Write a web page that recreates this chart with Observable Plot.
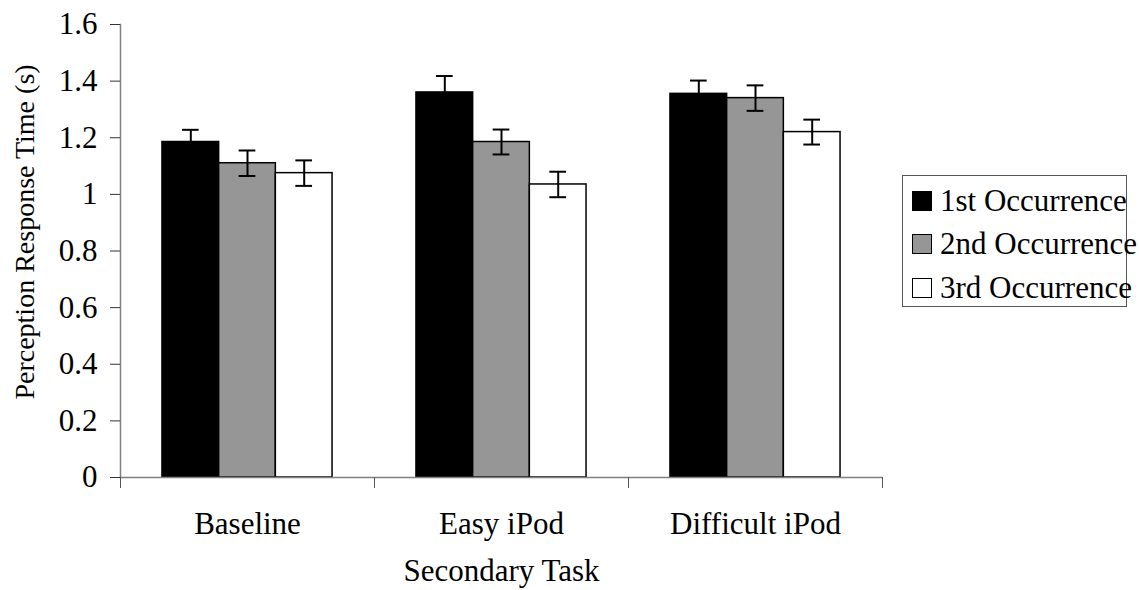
<!DOCTYPE html>
<html>
<head>
<meta charset="utf-8">
<script src="https://cdn.jsdelivr.net/npm/d3@7"></script>
<script src="https://cdn.jsdelivr.net/npm/@observablehq/plot@0.6"></script>
<style>
  html, body { margin: 0; padding: 0; background: #fff; }
  #wrap { position: relative; width: 1139px; height: 590px; font-family: "Liberation Serif", "Times New Roman", serif; }
  #legend { position: absolute; left: 902px; top: 175px; width: 225px; height: 132px; border: 1px solid #555; box-sizing: border-box; }
  .row { position: absolute; left: 9px; height: 30px; display: flex; align-items: center; white-space: nowrap; font-size: 31px; color: #000; }
  .sw { width: 18px; height: 18px; border: 1.5px solid #000; margin-right: 8px; flex: none; }
</style>
</head>
<body>
<div id="wrap"></div>
<script>
const tasks = ["Baseline", "Easy iPod", "Difficult iPod"];
const occurrences = ["1st Occurrence", "2nd Occurrence", "3rd Occurrence"];
const firstValues  = [1.185, 1.360, 1.355];
const secondValues = [1.110, 1.185, 1.340];
const thirdValues  = [1.075, 1.035, 1.220];
const firstErrors  = [0.043, 0.058, 0.047];
const secondErrors = [0.045, 0.044, 0.045];
const thirdErrors  = [0.045, 0.045, 0.044];
const yTicks = [0, 0.2, 0.4, 0.6, 0.8, 1.0, 1.2, 1.4, 1.6];
const fills = ["#000000", "#969696", "#ffffff"];
const yLabel = "Perception Response Time (s)";
const xLabel = "Secondary Task";

const series = [firstValues, secondValues, thirdValues];
const errors = [firstErrors, secondErrors, thirdErrors];
const data = [];
tasks.forEach((t, i) => occurrences.forEach((o, j) => {
  data.push({task: t, occ: o, value: series[j][i], err: errors[j][i]});
}));

const chart = Plot.plot({
  width: 1139,
  height: 590,
  marginLeft: 120,
  marginRight: 257,
  marginTop: 24,
  marginBottom: 113,
  style: {fontFamily: "Liberation Serif, Times New Roman, serif", fontSize: "31px", color: "#000", background: "#fff"},
  fx: {domain: tasks, padding: 0, round: false},
  x: {domain: occurrences, paddingInner: 0, paddingOuter: 0.74, round: false, axis: null},
  y: {domain: [0, 1.6]},
  color: {domain: occurrences, range: fills},
  marks: [
    Plot.barY(data, {fx: "task", x: "occ", y: "value", fill: "occ", stroke: "#000", strokeWidth: 1.5}),
    Plot.ruleX(data, {fx: "task", x: "occ", y1: d => d.value - d.err, y2: d => d.value + d.err, stroke: "#000", strokeWidth: 2}),
    Plot.tickY(data, {fx: "task", x: "occ", y: d => d.value + d.err, stroke: "#000", strokeWidth: 2, insetLeft: 20, insetRight: 20}),
    Plot.tickY(data, {fx: "task", x: "occ", y: d => d.value - d.err, stroke: "#000", strokeWidth: 2, insetLeft: 20, insetRight: 20}),
    Plot.ruleY([0], {stroke: "#808080", strokeWidth: 1.5}),
    Plot.frame({anchor: "left", facetAnchor: "left", stroke: "#808080", strokeWidth: 1.5}),
    Plot.frame({anchor: "left", insetTop: 453, insetBottom: -10, stroke: "#555", strokeWidth: 1}),
    Plot.frame({anchor: "right", insetTop: 453, insetBottom: -10, stroke: "#555", strokeWidth: 1}),
    Plot.axisY({ticks: yTicks, tickSize: 10, tickPadding: 13, tickFormat: d3.format("~g"), stroke: "#333", label: null}),
    Plot.text([yLabel], {frameAnchor: "left", facetAnchor: "left", rotate: -90, dx: -95, dy: -19,
      textAnchor: "middle", lineAnchor: "middle", fontSize: 28, fill: "#000", text: d => d}),
    Plot.axisFx({anchor: "bottom", tickSize: 0, tickPadding: 34, label: xLabel, labelAnchor: "center", labelOffset: 103})
  ]
});
document.getElementById("wrap").appendChild(chart);

const legend = document.createElement("div");
legend.id = "legend";
const rowTops = [10, 53, 97];
occurrences.forEach((o, j) => {
  const row = document.createElement("div");
  row.className = "row";
  row.style.top = rowTops[j] + "px";
  const sw = document.createElement("span");
  sw.className = "sw";
  sw.style.background = fills[j];
  row.appendChild(sw);
  row.appendChild(document.createTextNode(o));
  legend.appendChild(row);
});
document.getElementById("wrap").appendChild(legend);
</script>
</body>
</html>
